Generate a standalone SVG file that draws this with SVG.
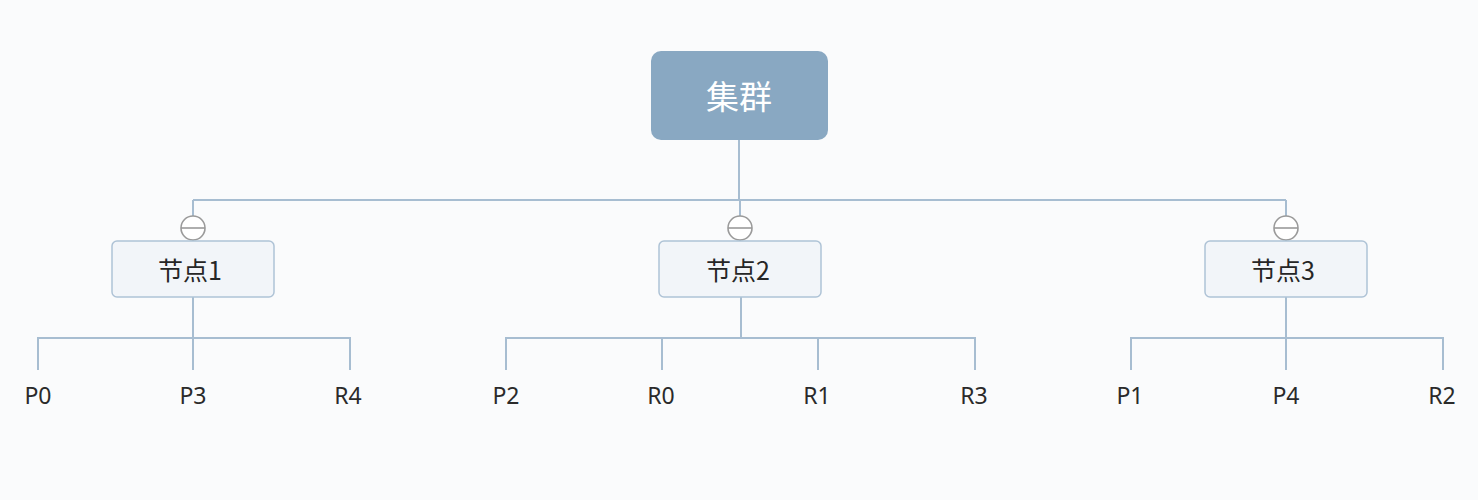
<svg xmlns="http://www.w3.org/2000/svg" width="1478" height="500" viewBox="0 0 1478 500">
  <style>
    .bg { fill: #fafbfc; }
    .line { fill: none; stroke: #a7bdd1; stroke-width: 2; }
    .root { fill: #89a8c2; }
    .root-text { fill: #ffffff; font-family: "Noto Sans CJK SC", "Noto Sans", sans-serif; font-size: 33px; }
    .node { fill: #f2f5f9; stroke: #afc3d6; stroke-width: 1.5; }
    .node-text { fill: #262626; font-family: "Noto Sans CJK SC", "Noto Sans", sans-serif; font-size: 25px; }
    .leaf-text { fill: #2a2a2a; font-family: "Noto Sans", "Noto Sans CJK SC", sans-serif; font-size: 23px; }
    .toggle { fill: #ffffff; stroke: #9a9a9a; stroke-width: 1.6; }
  </style>
  <rect class="bg" x="0" y="0" width="1478" height="500"/>

  <!-- connectors -->
  <g id="connectors">
    <path class="line" d="M739 140 V200 M193 200 H1286 M193 200 V241 M740 200 V241 M1286 200 V241"/>
    <path class="line" d="M193 297 V338 M38 370 V338 H350 V370 M193 338 V370"/>
    <path class="line" d="M741 297 V338 M506 370 V338 H975 V370 M662 338 V370 M818 338 V370"/>
    <path class="line" d="M1286 297 V338 M1131 370 V338 H1443 V370 M1286 338 V370"/>
  </g>

  <!-- collapse toggles -->
  <g id="toggles">
    <circle class="toggle" cx="193" cy="228" r="12"/>
    <path d="M181 228 H205" stroke="#9a9a9a" stroke-width="1.6"/>
    <circle class="toggle" cx="740" cy="228" r="12"/>
    <path d="M728 228 H752" stroke="#9a9a9a" stroke-width="1.6"/>
    <circle class="toggle" cx="1286" cy="228" r="12"/>
    <path d="M1274 228 H1298" stroke="#9a9a9a" stroke-width="1.6"/>
  </g>

  <g id="cluster">
    <rect class="root" x="651" y="51" width="177" height="89" rx="10"/>
    <text class="root-text" x="739" y="109" text-anchor="middle">集群</text>
  </g>

  <g id="node1">
    <rect class="node" x="112" y="241" width="162" height="56" rx="5"/>
    <text class="node-text" x="190" y="280" text-anchor="middle">节点1</text>
  </g>
  <g id="node2">
    <rect class="node" x="659" y="241" width="162" height="56" rx="5"/>
    <text class="node-text" x="738" y="280" text-anchor="middle">节点2</text>
  </g>
  <g id="node3">
    <rect class="node" x="1205" y="241" width="162" height="56" rx="5"/>
    <text class="node-text" x="1283" y="280" text-anchor="middle">节点3</text>
  </g>

  <g id="leaves" class="leaf-text" text-anchor="middle">
    <text id="p0" x="38" y="404">P0</text>
    <text id="p3" x="193" y="404">P3</text>
    <text id="r4" x="348" y="404">R4</text>
    <text id="p2" x="506" y="404">P2</text>
    <text id="r0" x="661" y="404">R0</text>
    <text id="r1" x="817" y="404">R1</text>
    <text id="r3" x="974" y="404">R3</text>
    <text id="p1" x="1130" y="404">P1</text>
    <text id="p4" x="1286" y="404">P4</text>
    <text id="r2" x="1442" y="404">R2</text>
  </g>
</svg>
